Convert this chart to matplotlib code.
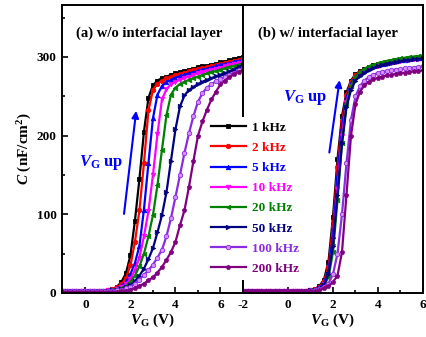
import numpy as np
import matplotlib.pyplot as plt

plt.rcParams["font.family"] = "Liberation Serif"
plt.rcParams["font.weight"] = "bold"
plt.rcParams["axes.labelweight"] = "bold"
plt.rcParams["axes.unicode_minus"] = False
plt.rcParams["mathtext.fontset"] = "custom"
plt.rcParams["mathtext.rm"] = "Liberation Serif:bold"
plt.rcParams["mathtext.it"] = "Liberation Serif:italic:bold"
plt.rcParams["mathtext.bf"] = "Liberation Serif:bold"

LABELS = ["1 kHz", "2 kHz", "5 kHz", "10 kHz", "20 kHz", "50 kHz", "100 kHz", "200 kHz"]
COLORS = ["#000000", "#ff0000", "#0000ff", "#ff00ff", "#008000", "#000080", "#8a2be2", "#800080"]
MARKERS = ["s", "o", "^", "v", "<", ">", "o", "p"]

# (a) without interfacial layer, V_G from -1.2 to 7 V in 0.2 V steps
V_A = np.round(np.arange(-1.2, 7.001, 0.2), 2)
BASE_A = [3, 3, 3, 3, 3, 3, 3, 3, 3, 3, 3]
C_A_1K = BASE_A + [4, 5, 8, 14, 25, 48, 92, 145, 205, 248,
                   264, 270, 273, 275, 277, 279, 280.5, 282, 283.5, 285, 287,
                   288, 289, 290, 291.5, 293, 294, 295.5, 297, 298.5, 300]
C_A_2K = BASE_A + [4, 5, 7, 11, 19, 35, 65, 105, 165, 232,
                   258, 266, 270, 273, 275, 277, 278.5, 280, 281.5, 283, 284.5,
                   286, 287, 288.5, 290, 291, 292.5, 294, 295, 296.5, 298]
C_A_5K = BASE_A + [3.5, 4, 6, 9, 14, 24, 38, 60, 106, 165,
                   222, 252, 263, 268, 271, 273.5, 275.5, 277, 279, 280.5, 282,
                   283.5, 285, 286.5, 288, 289.5, 291, 292, 293.5, 295, 296]
C_A_10K = BASE_A + [3.5, 4, 5, 7, 11, 18, 29, 45, 72, 104,
                    150, 202, 246, 259, 265, 268.5, 271, 273, 275, 277, 279,
                    280.5, 282, 283.5, 285, 286.5, 288, 289.5, 291, 292.5, 294]
C_A_20K = BASE_A + [3.5, 4, 5, 6, 9, 14, 22, 34, 50, 72,
                    99, 137, 182, 226, 252, 261, 265.5, 268.5, 271, 273, 275,
                    277, 279, 280.5, 282, 284, 285.5, 287, 288.5, 290, 292]
C_A_50K = BASE_A + [3, 3.5, 4, 5, 7, 10, 15, 22, 31, 43,
                    57, 77, 99, 128, 168, 208, 237, 251, 258, 262, 265.5,
                    268.5, 271, 273, 275.5, 277.5, 279.5, 281.5, 284, 287, 290]
C_A_100K = BASE_A + [3, 3, 3.5, 4, 6, 8, 12, 17, 23, 29,
                     36, 45, 55, 72, 95, 122, 150, 178, 203, 225, 243,
                     254, 261, 265.5, 269, 272, 275, 277.5, 280, 283, 286]
C_A_200K = [1, 1, 1, 1, 1, 1, 1, 1, 1, 1, 1] + [1, 1, 1.5, 2, 3, 4, 6, 9, 12, 16,
                                                20, 26, 33, 42, 52, 65, 86, 105, 135, 168, 200,
                                                218, 233, 246, 256, 265, 270, 274.5, 278, 281, 283]

# (b) with interfacial layer, V_G from -2 to 6 V in 0.2 V steps
V_B = np.round(np.arange(-2.0, 6.001, 0.2), 2)
BASE_B = [3, 3, 3, 3, 3, 3, 3, 3, 3, 3, 3, 3, 3, 3, 3]
C_B_1K = BASE_B + [3.5, 5, 9, 17, 40, 97, 170, 225, 255, 270, 278, 282, 285,
                   287.5, 289.5, 291, 292.5, 293.5, 294.5, 295.5, 296.5, 297, 298,
                   298.5, 299, 300]
C_B_2K = BASE_B + [3.5, 4.5, 8, 15, 33, 85, 160, 218, 252, 268, 277, 281, 284,
                   286.5, 288.5, 290.5, 292, 293, 294, 295, 296, 297, 298,
                   298.5, 299, 300]
C_B_5K = BASE_B + [3.5, 4.5, 7, 13, 28, 72, 148, 210, 248, 266, 275, 280, 283.5,
                   286, 288, 290, 291.5, 292.5, 293.5, 294.5, 295.5, 296.5, 297,
                   298, 298.5, 299]
C_B_10K = BASE_B + [3.5, 4, 6, 11, 23, 60, 132, 200, 243, 263, 273, 278, 282,
                    285, 287, 289, 290.5, 291.5, 292.5, 293.5, 294.5, 295.5, 296,
                    297, 297.5, 298]
C_B_20K = BASE_B + [3.5, 4, 6, 10, 20, 52, 118, 190, 240, 263, 275, 281, 285,
                    288, 290, 292, 293.5, 295, 296, 297, 298, 299, 300,
                    300.5, 301, 302]
C_B_50K = BASE_B + [3.5, 4, 6, 10, 24, 60, 125, 190, 236, 258, 270, 276, 280,
                    283.5, 286, 288, 290, 291.5, 292.5, 293.5, 294.5, 295.5, 296,
                    297, 297.5, 298]
C_B_100K = BASE_B + [3, 3.5, 5, 8, 12, 24, 50, 100, 165, 220, 250, 263, 270,
                     274.5, 277.5, 279.5, 281, 282, 283, 284, 284.5, 285.5, 286,
                     286.5, 287, 288]
C_B_200K = BASE_B + [2, 2.5, 3.5, 6, 9, 14, 22, 52, 125, 200, 240, 256, 264,
                     268.5, 271.5, 273.5, 275, 276.5, 277.5, 278.5, 279.5, 280, 281,
                     281.5, 282, 283]

C_A = [C_A_1K, C_A_2K, C_A_5K, C_A_10K, C_A_20K, C_A_50K, C_A_100K, C_A_200K]
C_B = [C_B_1K, C_B_2K, C_B_5K, C_B_10K, C_B_20K, C_B_50K, C_B_100K, C_B_200K]

FS = 9.5


def style_axes(ax, xlim, xticks, minor):
    ax.set_xticks(xticks)
    ax.set_xticks(minor, minor=True)
    ax.set_xlim(*xlim)
    ax.set_ylim(0, 366)
    for sp in ax.spines.values():
        sp.set_linewidth(1.4)
    ax.tick_params(which="both", direction="in", width=1.2, labelsize=FS, pad=4)
    ax.tick_params(which="major", length=4)
    ax.tick_params(which="minor", length=2.5)
    ax.set_xlabel(r"$V_{\rm G}$ (V)", fontsize=11, labelpad=1)


fig = plt.figure(figsize=(4.27, 3.37), dpi=100)
ax_a = fig.add_axes([0.1452, 0.1306, 0.4239, 0.8546])
ax_b = fig.add_axes([0.5691, 0.1306, 0.4215, 0.8546])

handles = []
for c, lab, col, mk in zip(C_A, LABELS, COLORS, MARKERS):
    mfc = "#d98cff" if lab == "100 kHz" else col
    h, = ax_a.plot(V_A, c, color=col, lw=1.6, marker=mk, ms=3.2, mfc=mfc,
                   mec=col, mew=0.6, label=lab)
    handles.append(h)
for c, lab, col, mk in zip(C_B, LABELS, COLORS, MARKERS):
    mfc = "#d98cff" if lab == "100 kHz" else col
    ax_b.plot(V_B, c, color=col, lw=1.6, marker=mk, ms=3.2, mfc=mfc,
              mec=col, mew=0.6)

ax_a.set_yticks([0, 100, 200, 300])
ax_a.set_yticks([50, 150, 250, 350], minor=True)
style_axes(ax_a, (-1.04, 7.0), [0, 2, 4, 6], [1, 3, 5])
ax_a.set_ylabel(r"$C$ (nF/cm$^2$)", fontsize=11, labelpad=2)

ax_b.set_yticks([])
ax_b.set_yticks([], minor=True)
style_axes(ax_b, (-2.0, 6.0), [-2, 0, 2, 4, 6], [-1, 1, 3, 5])

ax_a.text(-0.4, 330, "(a) w/o interfacial layer", fontsize=10.5,
          fontweight="bold", va="center", ha="left")
ax_b.text(-1.35, 330, "(b) w/ interfacial layer", fontsize=10.5,
          fontweight="bold", va="center", ha="left")

ax_a.text(-0.3, 166, r"$V_{\rm G}$ up", color="#0000ff", fontsize=12,
          va="center", ha="left")
ax_a.annotate("", xy=(2.27, 235), xytext=(1.70, 97),
              arrowprops=dict(arrowstyle="-|>", color="#0000ff", lw=1.5,
                              mutation_scale=10))
ax_b.text(-0.22, 249, r"$V_{\rm G}$ up", color="#0000ff", fontsize=12,
          va="center", ha="left")
ax_b.annotate("", xy=(2.31, 274), xytext=(1.82, 175),
              arrowprops=dict(arrowstyle="-|>", color="#0000ff", lw=1.5,
                              mutation_scale=10))

leg = fig.legend(handles=handles, loc="upper left",
                 bbox_to_anchor=(206 / 427, 1 - 117 / 337),
                 fontsize=FS, frameon=True, facecolor="white", edgecolor="none",
                 framealpha=1, fancybox=False, handlelength=2.65,
                 handletextpad=0.5, labelspacing=0.6, borderpad=0.35,
                 borderaxespad=0, numpoints=1)
for txt, col in zip(leg.get_texts(), COLORS):
    txt.set_color(col)
    txt.set_fontweight("bold")

fig.savefig("out.png", dpi=100)
